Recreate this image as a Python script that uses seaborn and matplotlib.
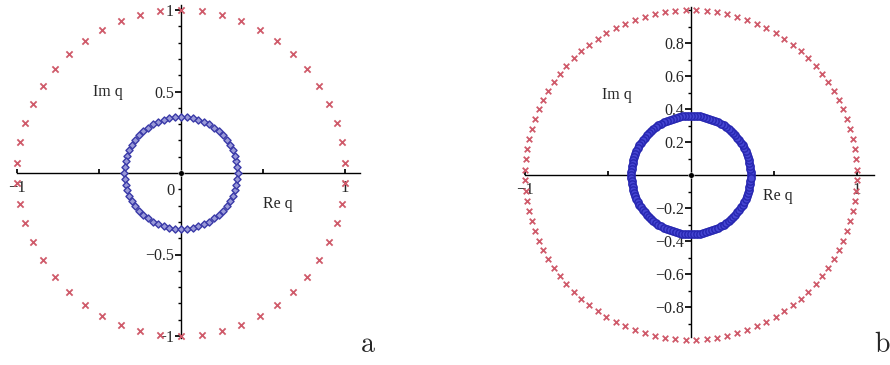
import numpy as np
import pandas as pd
import matplotlib
matplotlib.use("Agg")
import matplotlib.pyplot as plt
from matplotlib.ticker import FixedLocator, MultipleLocator
import seaborn as sns

# roots on circles: (count, radius, phase offset in degrees)
red_a = dict(n=50, r=1.0, phase=3.6)
blue_a = dict(n=60, r=0.345, phase=0.0)
red_b = dict(n=100, r=1.0, phase=1.8)
blue_b = dict(n=120, r=0.36, phase=0.0)
origin = [0.0]

yticks_a = [-1, -0.5, 0.5, 1]
ylabels_a = ["\u22121", "\u22120.5", "0.5", "1"]
yticks_b = [-0.8, -0.6, -0.4, -0.2, 0.2, 0.4, 0.6, 0.8]
ylabels_b = ["\u22120.8", "\u22120.6", "\u22120.4", "\u22120.2", "0.2", "0.4", "0.6", "0.8"]
xticks = [-1, -0.5, 0.5, 1]
xlabels = ["\u22121", "", "", "1"]

RED = "#cf5a6a"


def ring(spec, name):
    ang = np.deg2rad(spec["phase"] + 360.0 * np.arange(spec["n"]) / spec["n"])
    return pd.DataFrame({"re": spec["r"] * np.cos(ang), "im": spec["r"] * np.sin(ang), "set": name})


sns.set_theme(style="white")
plt.rcParams["font.family"] = ["Liberation Serif", "DejaVu Serif"]
plt.rcParams["mathtext.fontset"] = "cm"

fig = plt.figure(figsize=(8.9, 3.65), dpi=100)
W, H = 890.0, 365.0


def make_axes(cx, cy, sx, sy, xlim, ylim):
    left = cx + xlim[0] * sx
    right = cx + xlim[1] * sx
    top = cy - ylim[1] * sy
    bottom = cy - ylim[0] * sy
    ax = fig.add_axes([left / W, 1 - bottom / H, (right - left) / W, (bottom - top) / H])
    ax.set_xlim(*xlim)
    ax.set_ylim(*ylim)
    ax.patch.set_alpha(0)
    for s in ["top", "right"]:
        ax.spines[s].set_visible(False)
    for s in ["left", "bottom"]:
        ax.spines[s].set_position("zero")
        ax.spines[s].set_color("black")
        ax.spines[s].set_linewidth(1.0)
    ax.tick_params(axis="y", which="both", direction="out", left=True, color="black",
                   labelsize=11.5, pad=1)
    ax.tick_params(axis="y", which="major", length=4)
    ax.tick_params(axis="y", which="minor", length=2.5)
    ax.tick_params(axis="x", which="major", direction="in", bottom=True, length=3,
                   color="black", labelsize=12, pad=5)
    return ax


def draw(ax, red, blue, red_size, blue_style):
    r = ring(red, "red")
    b = ring(blue, "blue")
    sns.scatterplot(data=r, x="re", y="im", ax=ax, marker="x", s=red_size, color=RED,
                    linewidth=1.3, clip_on=False, legend=False, zorder=3)
    sns.scatterplot(data=b, x="re", y="im", ax=ax, clip_on=False, legend=False,
                    zorder=3, **blue_style)
    sns.scatterplot(x=origin, y=origin, ax=ax, s=16, color="black", legend=False,
                    zorder=4, clip_on=False)
    ax.set_xlabel("")
    ax.set_ylabel("")


# panel a
ax1 = make_axes(181, 173, 164, 163, (-1.0, 1.09), (-1.01, 1.03))
draw(ax1, red_a, blue_a, 20,
     dict(marker="D", s=13, facecolor="#9a9ad8", edgecolor="#3a3aa8", linewidth=1.0))
ax1.yaxis.set_major_locator(FixedLocator(yticks_a))
ax1.set_yticklabels(ylabels_a)
ax1.yaxis.set_minor_locator(MultipleLocator(0.1))
ax1.xaxis.set_major_locator(FixedLocator(xticks))
ax1.set_xticklabels(xlabels)
ax1.text(-0.04, -0.06, "0", ha="right", va="top", fontsize=12)
ax1.text(-0.445, 0.5, "Im q", ha="center", va="center", fontsize=11.5)
ax1.text(0.59, -0.19, "Re q", ha="center", va="center", fontsize=11.5)

# panel b
ax2 = make_axes(691, 175, 166, 165, (-1.0, 1.10), (-0.98, 1.02))
draw(ax2, red_b, blue_b, 16,
     dict(marker="o", s=28, facecolor="#4646d2", edgecolor="#2626b0", linewidth=1.0))
ax2.yaxis.set_major_locator(FixedLocator(yticks_b))
ax2.set_yticklabels(ylabels_b)
ax2.yaxis.set_minor_locator(MultipleLocator(0.1))
ax2.xaxis.set_major_locator(FixedLocator(xticks))
ax2.set_xticklabels(xlabels)
ax2.text(-0.445, 0.485, "Im q", ha="center", va="center", fontsize=11.5)
ax2.text(0.52, -0.13, "Re q", ha="center", va="center", fontsize=11.5)

fig.text(368 / W, 1 - 346 / H, r"$\mathrm{a}$", ha="center", va="center", fontsize=20)
fig.text(882 / W, 1 - 346 / H, r"$\mathrm{b}$", ha="center", va="center", fontsize=20)

fig.savefig("out.png", dpi=100)
